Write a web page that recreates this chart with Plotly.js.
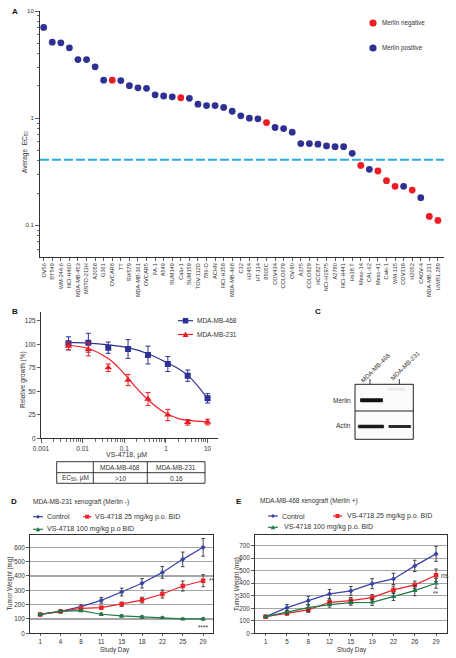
<!DOCTYPE html>
<html><head><meta charset="utf-8">
<script src="https://cdn.plot.ly/plotly-3.0.1.min.js"></script>
<style>html,body{margin:0;padding:0;background:#fff}#chart{width:456px;height:658px}</style>
</head><body><div id="chart"></div>
<script>
// ---------- Panel A data ----------
const cellLines = ['OV56','BT549','WM-244-6','NCI-H460','MDA-MB-453','MSTO-211H','A2058','G361','OVCAR8','TT','SW579','MDA-MB-361','OVCAR5','PA-1','A549','SUM149','Calu-1','SUM159','TOV-112D','786-O','ACHN','NCI-H358','MDA-MB-468','C32','H2454','HT-114','8505C','COV434','COLO679','OV-90','A375','COLO829','HCC827','NCI-H1975','A2780','NCI-H441','Hs38.T','Meso-14','CAL-62','Meso-41','Caki-1','WM-115','COV318','H2052','CAOV-4','MDA-MB-231','UWB1.289'];
const ec50 = [7.03,5.12,5.05,4.53,3.52,3.52,3.01,2.26,2.26,2.24,2.01,1.92,1.90,1.65,1.61,1.58,1.55,1.53,1.35,1.31,1.31,1.26,1.16,1.05,1.00,0.986,0.91,0.818,0.80,0.739,0.579,0.579,0.571,0.55,0.542,0.542,0.47,0.362,0.333,0.321,0.261,0.231,0.231,0.213,0.181,0.121,0.111];
const merlinStatus = ['pos','pos','pos','pos','pos','pos','pos','pos','neg','pos','pos','pos','pos','pos','pos','pos','neg','pos','pos','pos','pos','pos','pos','pos','pos','pos','neg','pos','pos','pos','pos','pos','pos','pos','pos','pos','pos','neg','pos','neg','neg','neg','pos','neg','pos','neg','neg'];
const ec50Threshold = 0.41;
const legendA = ['Merlin negative','Merlin positive'];

// ---------- Panel B data ----------
const concB = [0.00457,0.0137,0.0412,0.123,0.370,1.11,3.33,10];
const growth468 = [101,101.7,96.4,95,88.6,79,66.6,42.5];
const err468 = [7,10,6,10,9.5,8,6,5];
const growth231 = [98.2,94.7,75.1,62,41.8,24.8,17,17.3];
const err231 = [4,7,4,6,7,6,3,3];
const fitConc468 = [0.00457,0.0137,0.0412,0.123,0.370,1.11,2,3.33,6,10];
const fit468 = [102,101.3,99.5,96.5,90,80,74,67,55,42];
const fitConc231 = [0.00457,0.0137,0.0412,0.07,0.123,0.21,0.37,0.7,1.11,2,3.33,10];
const fit231 = [99,95.5,85,76,64,52,41,31,25.5,21,19,17.5];
const tableHeader = ['MDA-MB-468','MDA-MB-231'];
const tableRowLabel = 'EC<sub>50</sub>, µM';
const tableValues = ['>10','0.16'];

// ---------- Panel D data ----------
const daysD = ['1','4','8','11','15','18','22','25','29'];
const ctrlD = [132,153,186,230,288,349,425,516,600];
const ctrlDErr = [6,8,12,20,27,33,41,51,62];
const lowD = [132,153,174,179,203,232,274,330,367];
const lowDErr = [6,8,10,10,15,20,28,35,42];
const highD = [132,153,158,133,121,114,109,100,100];
const highDErr = [6,8,8,8,8,8,6,6,8];

// ---------- Panel E data ----------
const daysE = ['1','5','8','12','15','19','22','26','29'];
const ctrlE = [133,205,261,315,339,397,435,539,635];
const ctrlEErr = [10,25,35,35,35,40,45,45,60];
const lowE = [133,160,187,248,261,285,347,387,464];
const lowEErr = [8,15,20,25,25,25,30,30,50];
const highE = [133,168,205,229,245,248,293,341,400];
const highEErr = [8,15,25,20,20,25,30,40,40];
const seriesNames = ['Control','VS-4718 25 mg/kg p.o. BID','VS-4718 100 mg/kg p.o BID','VS-4718 100 mg/kg p.o. BID'];

// ---------- styling ----------
const W = 456, H = 658;
const px = x => x / W, py = y => 1 - y / H;
const FONT = 'Liberation Sans, Arial, sans-serif';
const TXT = '#333';
const RED = '#ed1c24', NAVY = '#2e3192', CYAN = '#29abe2';
const CBLUE = '#3b44a6', CRED = '#ec2329', CGREEN = '#1e7a48';

const traces = [];
traces.push({type:'scatter', mode:'markers', x:cellLines, y:ec50, xaxis:'x', yaxis:'y',
  marker:{size:6.8, color:merlinStatus.map(s => s === 'neg' ? RED : NAVY)}, hoverinfo:'skip'});
traces.push({type:'scatter', mode:'lines', x:fitConc468, y:fit468, xaxis:'x2', yaxis:'y2',
  line:{color:NAVY, width:1.2, shape:'spline'}});
traces.push({type:'scatter', mode:'lines', x:fitConc231, y:fit231, xaxis:'x2', yaxis:'y2',
  line:{color:RED, width:1.2, shape:'spline'}});
traces.push({type:'scatter', mode:'markers', x:concB, y:growth468, xaxis:'x2', yaxis:'y2',
  marker:{symbol:'square', size:6, color:NAVY},
  error_y:{type:'data', array:err468, color:NAVY, thickness:1, width:2.5}});
traces.push({type:'scatter', mode:'markers', x:concB, y:growth231, xaxis:'x2', yaxis:'y2',
  marker:{symbol:'triangle-up', size:6.5, color:RED},
  error_y:{type:'data', array:err231, color:RED, thickness:1, width:2.5}});

function growthTrace(x, y, err, color, symbol, size, xa, ya) {
  return {type:'scatter', mode:'lines+markers', x:x, y:y, xaxis:xa, yaxis:ya,
    line:{color:color, width:1.2}, marker:{symbol:symbol, size:size, color:color},
    error_y:{type:'data', array:err, color:'#333', thickness:0.9, width:1.8}};
}
traces.push(growthTrace(daysD, ctrlD, ctrlDErr, CBLUE, 'diamond', 4, 'x3', 'y3'));
traces.push(growthTrace(daysD, lowD, lowDErr, CRED, 'square', 4.5, 'x3', 'y3'));
traces.push(growthTrace(daysD, highD, highDErr, CGREEN, 'triangle-up', 5, 'x3', 'y3'));
traces.push(growthTrace(daysE, ctrlE, ctrlEErr, CBLUE, 'diamond', 4, 'x4', 'y4'));
traces.push(growthTrace(daysE, lowE, lowEErr, CRED, 'square', 4.5, 'x4', 'y4'));
traces.push(growthTrace(daysE, highE, highEErr, CGREEN, 'triangle-up', 5, 'x4', 'y4'));

const tickFont = {family:FONT, size:6, color:TXT};
const minorLog = [];
[0.001,0.01,0.1,1,10].forEach(d => { for (let k = 2; k <= 9; k++) minorLog.push(k*d); });

const baseAx = {showline:true, linecolor:'#333', linewidth:1, ticks:'outside', ticklen:3, tickwidth:0.8,
  tickcolor:'#333', tickfont:tickFont, showgrid:false, zeroline:false, fixedrange:true};

const layout = {
  width:W, height:H, margin:{l:0,r:0,t:0,b:0}, showlegend:false,
  paper_bgcolor:'#fff', plot_bgcolor:'rgba(0,0,0,0)', font:{family:FONT, color:TXT},
  xaxis: Object.assign({}, baseAx, {domain:[px(40), px(444)], anchor:'y', type:'category',
    range:[-0.43, 46.71], tickangle:-90, tickfont:{family:FONT, size:5.6, color:TXT}, ticklen:3}),
  yaxis: Object.assign({}, baseAx, {domain:[py(257), py(11)], anchor:'x', type:'log', range:[-1.296, 1],
    tickvals:[0.1,1,10], ticktext:['0.1','1','10'], ticklen:4,
    minor:{tickvals:minorLog, ticks:'outside', ticklen:2, tickcolor:'#333', tickwidth:0.7}}),
  xaxis2: Object.assign({}, baseAx, {domain:[px(41), px(218)], anchor:'y2', type:'log', range:[-3, 1.25],
    tickvals:[0.001,0.01,0.1,1,10], ticktext:['0.001','0.01','0.1','1','10'], ticklen:4,
    tickfont:{family:FONT, size:6.5, color:TXT},
    minor:{tickvals:minorLog, ticks:'outside', ticklen:2.5, tickcolor:'#333', tickwidth:0.7}}),
  yaxis2: Object.assign({}, baseAx, {domain:[py(438.3), py(311.7)], anchor:'x2', range:[0, 134.7],
    tickvals:[0,25,50,75,100,125], tickfont:{family:FONT, size:6.5, color:TXT}}),
  xaxis3: Object.assign({}, baseAx, {domain:[px(30), px(213.3)], anchor:'y3', type:'category',
    range:[-0.5, 8.5], mirror:true, ticklen:2, tickfont:{family:FONT, size:6.3, color:TXT}}),
  yaxis3: Object.assign({}, baseAx, {domain:[py(633.3), py(535)], anchor:'x3', range:[0, 686], mirror:true,
    tickvals:[0,100,200,300,400,500,600], showgrid:true, gridcolor:'#a6a6a6', gridwidth:1.3,
    tickfont:{family:FONT, size:6.3, color:TXT}}),
  xaxis4: Object.assign({}, baseAx, {domain:[px(255), px(446.7)], anchor:'y4', type:'category',
    range:[-0.5, 8.5], mirror:true, ticklen:2, tickfont:{family:FONT, size:6.3, color:TXT}}),
  yaxis4: Object.assign({}, baseAx, {domain:[py(633.3), py(535)], anchor:'x4', range:[0, 786], mirror:true,
    tickvals:[0,100,200,300,400,500,600,700], showgrid:true, gridcolor:'#a6a6a6', gridwidth:1.3,
    tickfont:{family:FONT, size:6.3, color:TXT}}),
  shapes:[], annotations:[]
};

const S = layout.shapes, A = layout.annotations;
function txt(x, y, text, opts) {
  A.push(Object.assign({xref:'paper', yref:'paper', x:px(x), y:py(y), text:text, showarrow:false,
    xanchor:'left', yanchor:'middle', font:{family:FONT, size:6.5, color:TXT}}, opts || {}));
}
function seg(x0, x1, y0, y1, color, w, dash) {
  S.push({type:'line', xref:'paper', yref:'paper', x0:px(x0), x1:px(x1), y0:py(y0), y1:py(y1),
    line:{color:color, width:w, dash:dash || 'solid'}});
}
function sq(cx, cy, s, color) {
  S.push({type:'rect', xref:'paper', yref:'paper', x0:px(cx-s/2), x1:px(cx+s/2), y0:py(cy+s/2), y1:py(cy-s/2),
    fillcolor:color, line:{width:0}});
}
function tri(cx, cy, s, color) {
  S.push({type:'path', xref:'paper', yref:'paper',
    path:`M ${px(cx-s/2)},${py(cy+s*0.42)} L ${px(cx+s/2)},${py(cy+s*0.42)} L ${px(cx)},${py(cy-s*0.5)} Z`,
    fillcolor:color, line:{width:0}});
}
function dia(cx, cy, s, color) {
  S.push({type:'path', xref:'paper', yref:'paper',
    path:`M ${px(cx-s/2)},${py(cy)} L ${px(cx)},${py(cy-s/2)} L ${px(cx+s/2)},${py(cy)} L ${px(cx)},${py(cy+s/2)} Z`,
    fillcolor:color, line:{width:0}});
}
function dot(cx, cy, r, color) {
  S.push({type:'circle', xref:'paper', yref:'paper', x0:px(cx-r), x1:px(cx+r), y0:py(cy+r), y1:py(cy-r),
    fillcolor:color, line:{width:0}});
}
function band(x0, x1, yc, h, color) {
  S.push({type:'path', xref:'paper', yref:'paper',
    path:`M ${px(x0)},${py(yc-h/2)} L ${px(x1)},${py(yc-h/2)} Q ${px(x1+1.5)},${py(yc)} ${px(x1)},${py(yc+h/2)} L ${px(x0)},${py(yc+h/2)} Q ${px(x0-1.5)},${py(yc)} ${px(x0)},${py(yc-h/2)} Z`,
    fillcolor:color, line:{width:0}});
}

// Panel A extras
S.push({type:'line', xref:'x domain', yref:'y', x0:0, x1:1, y0:ec50Threshold, y1:ec50Threshold,
  line:{color:CYAN, width:2, dash:'9px,3px'}});
dot(373, 23, 3.6, RED); txt(380, 23, legendA[0], {font:{family:FONT, size:6.3, color:TXT}});
dot(373, 48, 3.6, NAVY); txt(380, 48, legendA[1], {font:{family:FONT, size:6.3, color:TXT}});
txt(25, 152, 'Average  EC<sub>50</sub>', {xanchor:'center', textangle:-90});

// Panel B extras
seg(178, 193, 320.7, 320.7, NAVY, 1.2); sq(185.5, 320.7, 5.5, NAVY);
txt(195, 320.7, 'MDA-MB-468');
seg(178, 193, 334.5, 334.5, RED, 1.2); tri(185.5, 334.5, 6, RED);
txt(195, 334.5, 'MDA-MB-231');
txt(23, 380, 'Relative growth (%)', {xanchor:'center', textangle:-90});
txt(127, 455, 'VS-4718, µM', {xanchor:'center', font:{family:FONT, size:7, color:TXT}});
// table
S.push({type:'rect', xref:'paper', yref:'paper', x0:px(56.7), x1:px(205), y0:py(483.3), y1:py(461.7),
  line:{color:'#222', width:0.9}});
seg(56.7, 205, 472.7, 472.7, '#222', 0.9);
seg(93.3, 93.3, 461.7, 483.3, '#222', 0.9);
seg(147.3, 147.3, 461.7, 483.3, '#222', 0.9);
txt(120.3, 467.2, tableHeader[0], {xanchor:'center'});
txt(176.2, 467.2, tableHeader[1], {xanchor:'center'});
txt(75, 478, tableRowLabel, {xanchor:'center'});
txt(120.3, 478, tableValues[0], {xanchor:'center'});
txt(176.2, 478, tableValues[1], {xanchor:'center'});

// Panel C blot
S.push({type:'rect', xref:'paper', yref:'paper', x0:px(355), x1:px(413.3), y0:py(439.3), y1:py(384.3),
  fillcolor:'#fbfbfb', line:{color:'#222', width:1}});
seg(355, 413.3, 411, 411, '#222', 1);
seg(370, 370, 379, 384.3, '#222', 0.9);
seg(399.3, 399.3, 379, 384.3, '#222', 0.9);
S.push({type:'rect', xref:'paper', yref:'paper', x0:px(388), x1:px(406), y0:py(391), y1:py(387.5),
  fillcolor:'#ececec', line:{width:0}});
band(360.5, 382.5, 400.3, 4, '#111');
band(358.5, 383.5, 426.5, 3.6, '#1a1a1a');
band(389, 410.5, 426.5, 3.2, '#2a2a2a');
txt(353, 400, 'Merlin', {xanchor:'right'});
txt(353, 426, 'Actin', {xanchor:'right'});
txt(375.5, 367.5, 'MDA-MB-468', {xanchor:'center', textangle:-45, font:{family:FONT, size:6.3, color:TXT}});
txt(405, 365.5, 'MDA-MB-231', {xanchor:'center', textangle:-45, font:{family:FONT, size:6.3, color:TXT}});

// Panel D extras
txt(30.7, 501.7, 'MDA-MB-231 xenograft (Merlin -)');
seg(33, 43, 516.7, 516.7, CBLUE, 1.2); dia(38, 516.7, 4, CBLUE); txt(45, 516.7, seriesNames[0], {font:{family:FONT, size:7, color:TXT}});
seg(83, 91.5, 516.7, 516.7, CRED, 1.2); sq(87.2, 516.7, 4, CRED); txt(93.3, 516.7, seriesNames[1], {font:{family:FONT, size:7, color:TXT}});
seg(33, 43, 529.3, 529.3, CGREEN, 1.2); tri(38, 529.3, 4.5, CGREEN); txt(45, 529.3, seriesNames[2], {font:{family:FONT, size:7, color:TXT}});
txt(9.5, 584, 'Tumor Weight (mg)', {xanchor:'center', textangle:-90, font:{family:FONT, size:6.3, color:TXT}});
txt(115, 649.5, 'Study Day', {xanchor:'center', font:{family:FONT, size:6.3, color:TXT}});
A.push({xref:'x3', yref:'y3', x:daysD.length-1, y:lowD[lowD.length-1], text:'**', showarrow:false,
  xanchor:'left', xshift:4, yanchor:'middle', font:{family:FONT, size:6.5, color:TXT}});
A.push({xref:'x3', yref:'y3', x:daysD.length-1, y:highD[highD.length-1], text:'****', showarrow:false,
  xanchor:'center', yshift:-9, yanchor:'middle', font:{family:FONT, size:6.5, color:TXT}});

// Panel E extras
txt(257.7, 501, 'MDA-MB-468 xenograft (Merlin +)');
seg(268, 278, 516, 516, CBLUE, 1.2); dia(273, 516, 4, CBLUE); txt(280, 516, seriesNames[0], {font:{family:FONT, size:7, color:TXT}});
seg(333, 342, 516, 516, CRED, 1.2); sq(337.5, 516, 4, CRED); txt(345, 516, seriesNames[1], {font:{family:FONT, size:7, color:TXT}});
seg(268, 278, 527.3, 527.3, CGREEN, 1.2); tri(273, 527.3, 4.5, CGREEN); txt(281.7, 527.3, seriesNames[3], {font:{family:FONT, size:7, color:TXT}});
txt(237, 584, 'Tumor Weight (mg)', {xanchor:'center', textangle:-90, font:{family:FONT, size:6.3, color:TXT}});
txt(351.7, 649.5, 'Study Day', {xanchor:'center', font:{family:FONT, size:6.3, color:TXT}});
A.push({xref:'x4', yref:'y4', x:daysE.length-1, y:lowE[lowE.length-1], text:'ns', showarrow:false,
  xanchor:'left', xshift:3, yanchor:'middle', font:{family:FONT, size:7, color:TXT}});
A.push({xref:'x4', yref:'y4', x:daysE.length-1, y:highE[highE.length-1], text:'**', showarrow:false,
  xanchor:'center', yshift:-10, yanchor:'middle', font:{family:FONT, size:6.5, color:TXT}});

// Panel letters
const bold = {family:FONT, size:8, color:'#111', weight:'bold'};
txt(10, 11, '<b>A</b>', {font:bold});
txt(10, 312, '<b>B</b>', {font:bold});
txt(313, 312, '<b>C</b>', {font:bold});
txt(9, 501.7, '<b>D</b>', {font:bold});
txt(234, 501, '<b>E</b>', {font:bold});

Plotly.newPlot('chart', traces, layout, {staticPlot:true, displayModeBar:false});
</script></body></html>
